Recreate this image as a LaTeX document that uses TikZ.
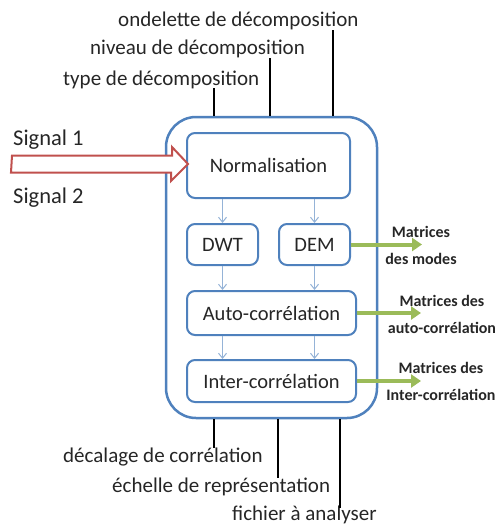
\documentclass[tikz,border=0pt]{standalone}
\usepackage{fontspec}
\setmainfont{Carlito}
\usetikzlibrary{positioning, arrows.meta, calc, fit}
\definecolor{borderBlue}{HTML}{4F81BD}
\definecolor{flowBlue}{HTML}{95B3D7}
\definecolor{outGreen}{HTML}{9BBB59}
\definecolor{signalRed}{HTML}{C0504D}
\definecolor{textMain}{HTML}{262626}
\tikzset{
  stage/.style={draw=borderBlue, fill=white, rounded corners=8pt, line width=2pt,
    minimum width=169pt, minimum height=44pt, inner sep=0pt,
    font=\fontsize{20.5}{24}\selectfont, text=textMain, align=center},
  smallstage/.style={stage, minimum width=71pt, minimum height=41pt},
  frame/.style={draw=borderBlue, rounded corners=30pt, line width=2.5pt},
  flow/.style={-{Straight Barb[length=5pt, width=8pt]}, draw=flowBlue, line width=1pt},
  outflow/.style={-{Triangle[length=10pt, width=13pt]}, draw=outGreen, line width=4pt},
  outlabel/.style={font=\fontsize{16}{27}\selectfont\bfseries, text=textMain, align=center},
  param/.style={draw=black, line width=2.5pt},
  paramlabel/.style={font=\fontsize{21}{25}\selectfont, text=textMain, inner sep=0pt},
  siglabel/.style={paramlabel, font=\fontsize{22.5}{26}\selectfont},
  sigarrow/.style={draw=signalRed, fill=white, line width=2pt, line join=miter},
}
\begin{document}
\begin{tikzpicture}[x=1pt, y=-1pt]
  \useasboundingbox (0,0) rectangle (501,524);

  % === Processing chain ===
  \node[stage, minimum width=163pt, minimum height=65pt] (norm) at (268.5,165.5) {Normalisation};

  \node[smallstage, below=24pt of norm.south west, anchor=north west] (dwt) {DWT};
  \node[smallstage, below=24pt of norm.south east, anchor=north east] (dem) {DEM};

  \node[stage, below=24pt of dwt.south west, anchor=north west] (auto) {Auto-corrélation};
  \node[stage, minimum height=42pt, below=23pt of auto.south west, anchor=north west] (inter) {Inter-corrélation};

  % === Enclosing block ===
  \node[frame, fit=(norm)(dwt)(dem)(auto)(inter), inner xsep=20pt, inner ysep=15pt] (block) {};

  % Arrows between stages
  \draw[flow] (dwt.north |- norm.south) -- (dwt.north);
  \draw[flow] (dem.north |- norm.south) -- (dem.north);
  \draw[flow] (dwt.south) -- (dwt.south |- auto.north);
  \draw[flow] (dem.south) -- (dem.south |- auto.north);
  \draw[flow] (dwt.south |- auto.south) -- (dwt.south |- inter.north);
  \draw[flow] (dem.south |- auto.south) -- (dem.south |- inter.north);

  % === Input signals ===
  \coordinate (sig) at (12,164);
  \draw[sigarrow] (sig) ++(0,-8.5) -- ++(160,0) -- ++(0,-8.5)
    -- ($(norm.west)+(2,-1.5)$) -- ++(-17,17) -- ++(0,-8.5) -- ++(-160,0) -- cycle;
  \node[siglabel, anchor=base west] (sig1) at (13,145) {Signal 1};
  \node[siglabel, anchor=base west] (sig2) at (13,203) {Signal 2};

  % === Outputs ===
  \draw[outflow] (dem.east) -- ++(71,0) coordinate (modes);
  \draw[outflow] (auto.east) -- ++(64,0) coordinate (autoout);
  \draw[outflow] (inter.east) -- ++(64,0) coordinate (interout);
  \node[outlabel] (modeslbl) at ($(modes)+(-1,1)$) {Matrices\\des modes};
  \node[outlabel] (autolbl) at ($(autoout)+(21,1)$) {Matrices des\\auto-corrélation};
  \node[outlabel] (interlbl) at ($(interout)+(20,0)$) {Matrices des\\Inter-corrélation};

  % === Parameters above ===
  \node[paramlabel, anchor=base west] (ondelette) at (118,27) {ondelette de décomposition};
  \node[paramlabel, anchor=base west] (niveau) at (90,55) {niveau de décomposition};
  \node[paramlabel, anchor=base west] (type) at (63,86) {type de décomposition};
  \draw[param] ($(block.north west)+(49,0)$) -- ++(0,-28);
  \draw[param] ($(block.north west)+(105,0)$) -- ++(0,-58);
  \draw[param] ($(block.north west)+(168,0)$) -- ++(0,-86);

  % === Parameters below ===
  \node[paramlabel, anchor=base west] (decalage) at (63,462) {décalage de corrélation};
  \node[paramlabel, anchor=base west] (echelle) at (112,492) {échelle de représentation};
  \node[paramlabel, anchor=base west] (fichier) at (232,520) {fichier à analyser};
  \draw[param] ($(block.south west)+(49,0)$) -- ++(0,29);
  \draw[param] ($(block.south west)+(113,0)$) -- ++(0,59);
  \draw[param] ($(block.south west)+(175,0)$) -- ++(0,89);

\end{tikzpicture}
\end{document}
